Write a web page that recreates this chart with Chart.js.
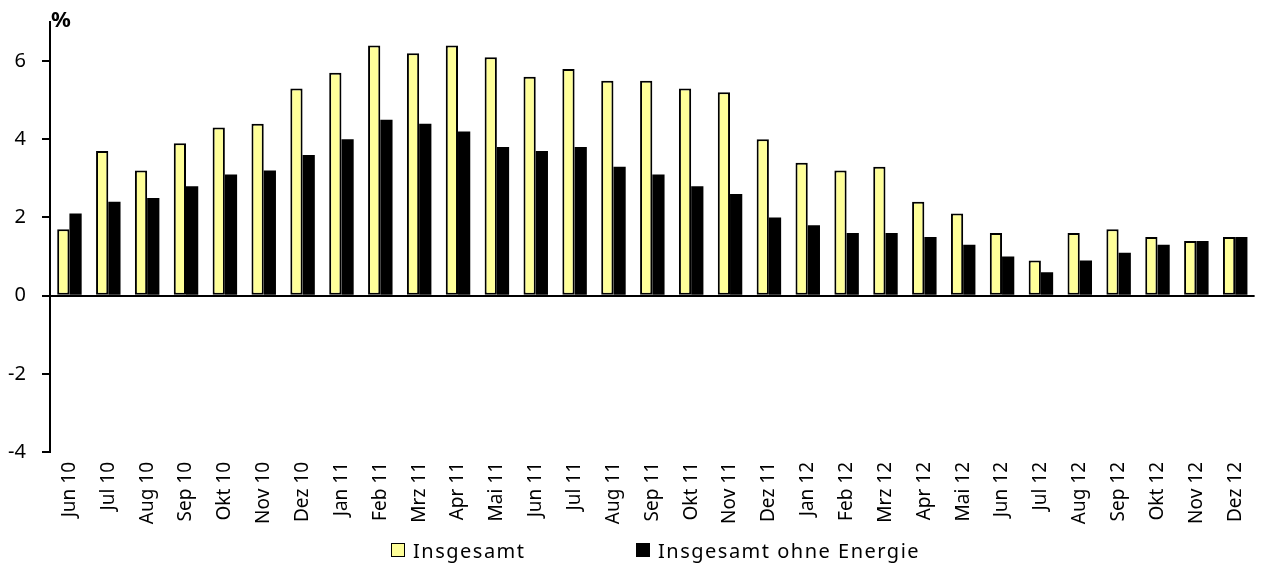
<!DOCTYPE html>
<html lang="de">
<head>
<meta charset="utf-8">
<script src="https://cdn.jsdelivr.net/npm/chart.js@4/dist/chart.umd.min.js"></script>
<style>
  html, body { margin: 0; padding: 0; background: #fff; }
  #wrap { position: relative; width: 1268px; height: 565px; font-family: "Noto Sans", sans-serif; }
  #unit { position: absolute; left: 51px; top: 3px; font-size: 22px; font-weight: bold; color: #000; }
  .leg { position: absolute; top: 537px; font-size: 20px; letter-spacing: 1.5px; color: #000; white-space: nowrap; }
  .leg i { display: inline-block; width: 12px; height: 12px; border: 1.5px solid #000; margin-right: 8px; vertical-align: 1px; }
</style>
</head>
<body>
<div id="wrap">
  <canvas id="chart" width="1268" height="565"></canvas>
  <div id="unit">%</div>
  <div class="leg" style="left:391px"><i style="background:#FFFF99"></i>Insgesamt</div>
  <div class="leg" style="left:636px"><i style="background:#000"></i>Insgesamt ohne Energie</div>
</div>
<script>
// Kategorien (Monate)
const months = [
  'Jun 10', 'Jul 10', 'Aug 10', 'Sep 10', 'Okt 10', 'Nov 10', 'Dez 10',
  'Jan 11', 'Feb 11', 'Mrz 11', 'Apr 11', 'Mai 11', 'Jun 11', 'Jul 11', 'Aug 11', 'Sep 11', 'Okt 11', 'Nov 11', 'Dez 11',
  'Jan 12', 'Feb 12', 'Mrz 12', 'Apr 12', 'Mai 12', 'Jun 12', 'Jul 12', 'Aug 12', 'Sep 12', 'Okt 12', 'Nov 12', 'Dez 12'
];

// Werte in %
const insgesamt = [
  1.7, 3.7, 3.2, 3.9, 4.3, 4.4, 5.3,
  5.7, 6.4, 6.2, 6.4, 6.1, 5.6, 5.8, 5.5, 5.5, 5.3, 5.2, 4.0,
  3.4, 3.2, 3.3, 2.4, 2.1, 1.6, 0.9, 1.6, 1.7, 1.5, 1.4, 1.5
];
const ohneEnergie = [
  2.1, 2.4, 2.5, 2.8, 3.1, 3.2, 3.6,
  4.0, 4.5, 4.4, 4.2, 3.8, 3.7, 3.8, 3.3, 3.1, 2.8, 2.6, 2.0,
  1.8, 1.6, 1.6, 1.5, 1.3, 1.0, 0.6, 0.9, 1.1, 1.3, 1.4, 1.5
];

// Achsenbeschriftung
const yTicks = [-4, -2, 0, 2, 4, 6];
const yMin = -4;
const yMax = 7;

const ctx = document.getElementById('chart');
new Chart(ctx, {
  type: 'bar',
  data: {
    labels: months,
    datasets: [
      {
        label: 'Insgesamt',
        data: insgesamt,
        backgroundColor: '#FFFF99',
        borderColor: '#000',
        borderWidth: 2,
        borderSkipped: false
      },
      {
        label: 'Insgesamt ohne Energie',
        data: ohneEnergie,
        backgroundColor: '#000',
        borderColor: '#000',
        borderWidth: 0
      }
    ]
  },
  options: {
    responsive: false,
    animation: false,
    events: [],
    layout: { padding: { top: 22, right: 0, bottom: 38, left: 0 } },
    datasets: { bar: { categoryPercentage: 0.63, barPercentage: 1.0 } },
    plugins: {
      legend: { display: false },
      tooltip: { enabled: false }
    },
    scales: {
      x: {
        grid: { display: false, drawTicks: false },
        border: { display: false },
        ticks: {
          color: '#000',
          font: { family: 'Noto Sans', size: 19 },
          minRotation: 90,
          maxRotation: 90,
          autoSkip: false,
          padding: 10
        },
        afterFit: (scale) => { scale.height = 75; }
      },
      y: {
        min: yMin,
        max: yMax,
        afterBuildTicks: (scale) => {
          scale.ticks = yTicks.map(v => ({ value: v }));
        },
        afterFit: (scale) => {
          // feste Breite, kein Zusatzabstand oben/unten durch die Beschriftung
          scale.width = 50;
          scale.paddingTop = 0;
          scale.paddingBottom = 0;
        },
        grid: {
          drawOnChartArea: true,
          color: (c) => (c.tick && c.tick.value === 0) ? '#000' : 'rgba(0,0,0,0)',
          tickColor: '#000',
          tickLength: 8,
          lineWidth: 2
        },
        border: { display: true, color: '#000', width: 2 },
        ticks: {
          color: '#000',
          font: { family: 'Noto Sans', size: 20 },
          padding: 16
        }
      }
    }
  }
});
</script>
</body>
</html>
